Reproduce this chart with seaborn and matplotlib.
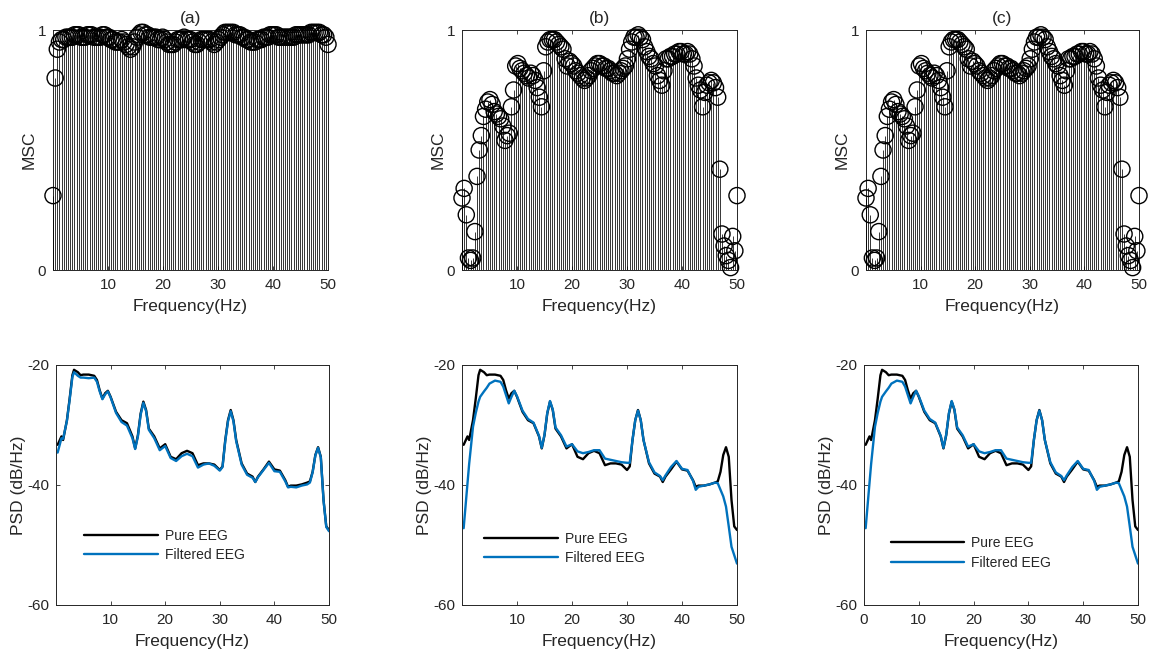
import numpy as np
import pandas as pd
import matplotlib
matplotlib.use("Agg")
import matplotlib.pyplot as plt
import seaborn as sns

# ---------------- data ----------------
# MSC frequency bins (fs = 100 Hz, 256-point FFT -> 129 bins from 0 to 50 Hz)
msc_freq = np.arange(129) * 50.0 / 128.0

msc_a = [0.31, 0.80, 0.92, 0.95, 0.96, 0.96, 0.97, 0.97, 0.97, 0.97,
         0.98, 0.98, 0.98, 0.97, 0.97, 0.97, 0.98, 0.98, 0.98, 0.97,
         0.97, 0.97, 0.97, 0.98, 0.98, 0.97, 0.97, 0.96, 0.96, 0.95,
         0.95, 0.95, 0.96, 0.95, 0.94, 0.93, 0.92, 0.93, 0.95, 0.97,
         0.98, 0.99, 0.99, 0.98, 0.98, 0.97, 0.97, 0.97, 0.97, 0.96,
         0.96, 0.97, 0.96, 0.95, 0.94, 0.94, 0.94, 0.95, 0.96, 0.96,
         0.96, 0.97, 0.96, 0.96, 0.96, 0.95, 0.94, 0.94, 0.95, 0.96,
         0.96, 0.96, 0.96, 0.96, 0.95, 0.94, 0.95, 0.96, 0.97, 0.98,
         0.99, 0.99, 0.99, 0.99, 0.99, 0.98, 0.98, 0.98, 0.97, 0.97,
         0.96, 0.96, 0.95, 0.95, 0.95, 0.96, 0.96, 0.96, 0.97, 0.97,
         0.97, 0.98, 0.98, 0.98, 0.98, 0.97, 0.97, 0.97, 0.97, 0.97,
         0.97, 0.97, 0.97, 0.98, 0.98, 0.98, 0.98, 0.98, 0.98, 0.98,
         0.99, 0.99, 0.99, 0.99, 0.99, 0.98, 0.98, 0.97, 0.94]

msc_b = [0.30, 0.34, 0.23, 0.05, 0.04, 0.05, 0.16, 0.39, 0.50, 0.56,
         0.64, 0.67, 0.70, 0.71, 0.69, 0.66, 0.65, 0.64, 0.63, 0.60,
         0.54, 0.56, 0.57, 0.68, 0.75, 0.85, 0.86, 0.84, 0.83, 0.82,
         0.81, 0.80, 0.82, 0.81, 0.79, 0.76, 0.72, 0.68, 0.83, 0.93,
         0.95, 0.96, 0.96, 0.96, 0.95, 0.94, 0.93, 0.92, 0.88, 0.85,
         0.87, 0.86, 0.85, 0.83, 0.82, 0.81, 0.80, 0.79, 0.80, 0.81,
         0.83, 0.84, 0.85, 0.86, 0.86, 0.85, 0.85, 0.84, 0.84, 0.83,
         0.82, 0.82, 0.81, 0.82, 0.83, 0.84, 0.85, 0.88, 0.92, 0.95,
         0.97, 0.97, 0.98, 0.97, 0.96, 0.93, 0.91, 0.89, 0.88, 0.86,
         0.85, 0.81, 0.79, 0.77, 0.83, 0.88, 0.88, 0.89, 0.89, 0.90,
         0.90, 0.91, 0.91, 0.90, 0.90, 0.91, 0.90, 0.88, 0.85, 0.80,
         0.77, 0.75, 0.68, 0.74, 0.77, 0.78, 0.79, 0.78, 0.76, 0.72,
         0.42, 0.15, 0.10, 0.06, 0.04, 0.01, 0.14, 0.08, 0.31]

msc_c = list(msc_b)

psd_freq = [0.3, 1, 1.3, 2, 2.5, 3, 3.3, 4, 4.5, 5, 6, 7, 7.5, 8, 8.5, 9, 9.5,
            10, 11, 12, 13, 14, 14.5, 15, 15.5, 16, 16.5, 17, 18, 19, 20, 21,
            22, 23, 24, 25, 26, 27, 28, 29, 30, 30.5, 31, 31.5, 32, 32.5, 33,
            34, 35, 36, 36.5, 37, 38, 39, 40, 41, 42, 42.5, 43, 44, 45, 46,
            46.5, 47, 47.5, 48, 48.5, 49, 49.5, 50]

psd_pure = [-33.3, -31.9, -32.5, -29.2, -25.6, -21.7, -20.8, -21.2, -21.7, -21.6,
            -21.6, -21.8, -22.5, -24.2, -25.6, -24.7, -24.3, -25.3, -27.8, -29.2,
            -29.7, -31.9, -33.9, -31.7, -28.1, -26.1, -27.5, -30.6, -31.9, -33.9,
            -33.2, -35.3, -35.7, -34.7, -34.3, -34.7, -36.7, -36.4, -36.4, -36.6,
            -37.5, -36.9, -32.5, -29.2, -27.5, -29.2, -32.5, -36.4, -38.1, -38.6,
            -39.5, -38.6, -37.4, -36.1, -37.4, -37.6, -39.2, -40.3, -40.1, -40.1,
            -39.9, -39.6, -39.4, -37.8, -35.0, -33.7, -35.3, -42.5, -46.9, -47.5]

psd_filt_a = [-34.6, -32.2, -32.3, -29.3, -25.8, -22.0, -21.2, -21.8, -22.1, -22.1,
              -22.2, -22.1, -22.8, -24.4, -25.7, -24.9, -24.4, -25.4, -28.0, -29.5,
              -30.1, -32.2, -34.0, -31.9, -28.3, -26.3, -27.7, -30.8, -32.2, -34.2,
              -33.5, -35.5, -36.0, -35.2, -34.8, -35.2, -37.1, -36.6, -36.4, -36.8,
              -37.6, -37.0, -32.7, -29.4, -27.7, -29.4, -32.7, -36.6, -38.3, -38.8,
              -39.5, -38.7, -37.5, -36.3, -37.7, -37.8, -39.4, -40.4, -40.3, -40.4,
              -40.1, -39.9, -39.6, -37.9, -35.1, -33.8, -35.4, -42.6, -47.0, -47.7]

psd_filt_bc = [-47.2, -39.7, -36.5, -30.3, -28.0, -26.1, -25.3, -24.4, -23.8, -23.1,
               -22.6, -22.8, -23.6, -25.0, -26.4, -25.3, -24.3, -25.2, -27.6, -29.0,
               -29.6, -31.8, -33.8, -31.6, -28.0, -26.0, -27.4, -30.4, -31.7, -33.6,
               -33.2, -34.4, -34.7, -34.5, -34.2, -34.2, -35.6, -35.8, -36.0, -36.2,
               -36.3, -36.3, -32.5, -29.2, -27.6, -29.2, -32.5, -36.2, -37.9, -38.5,
               -39.2, -38.4, -37.0, -36.0, -37.3, -37.5, -39.3, -40.8, -40.3, -40.1,
               -39.9, -39.6, -39.7, -40.8, -41.9, -43.6, -46.9, -50.3, -51.7, -53.1]

titles = ["(a)", "(b)", "(c)"]
series_names = ["Pure EEG", "Filtered EEG"]

# ---------------- style ----------------
sns.set_theme(style="ticks")
ink = "#262626"
plt.rcParams.update({
    "font.family": ["Liberation Sans", "DejaVu Sans"],
    "axes.unicode_minus": False,
    "xtick.direction": "in",
    "ytick.direction": "in",
    "xtick.top": True,
    "ytick.right": True,
    "xtick.major.size": 3,
    "ytick.major.size": 3,
    "xtick.major.width": 0.6,
    "ytick.major.width": 0.6,
    "xtick.major.pad": 6,
    "ytick.major.pad": 5,
    "axes.edgecolor": ink,
    "axes.linewidth": 0.7,
    "xtick.color": ink,
    "ytick.color": ink,
    "axes.labelcolor": ink,
    "text.color": ink,
    "xtick.labelsize": 11,
    "ytick.labelsize": 11,
    "axes.labelsize": 12.5,
    "axes.titlesize": 12.5,
})

W, H = 1158, 660
fig = plt.figure(figsize=(W / 100, H / 100), dpi=100)


def add_ax(x0, y0, x1, y1):
    return fig.add_axes([x0 / W, 1 - y1 / H, (x1 - x0) / W, (y1 - y0) / H])


top_boxes = [(53, 30, 328, 270), (462, 30, 737, 270), (866, 30, 1139, 270)]
bot_boxes = [(56, 365, 329, 605), (462, 365, 737, 605), (864, 365, 1138, 605)]
msc_sets = [msc_a, msc_b, msc_c]
filt_sets = [psd_filt_a, psd_filt_bc, psd_filt_bc]
legend_anchor = [(0.103, 0.318), (0.081, 0.306), (0.097, 0.286)]

for i in range(3):
    ax = add_ax(*top_boxes[i])
    vals = msc_sets[i]
    ax.vlines(msc_freq, 0, vals, color="black", lw=0.55, zorder=2)
    sns.scatterplot(x=msc_freq, y=vals, ax=ax, marker="o", s=135,
                    linewidth=1.0, clip_on=False, zorder=3, legend=False)
    coll = ax.collections[-1]
    coll.set_facecolor("none")
    coll.set_edgecolor("black")
    ax.set_xlim(0, 50)
    ax.set_ylim(0, 1)
    ax.set_xticks([10, 20, 30, 40, 50])
    ax.set_yticks([0, 1])
    ax.set_xlabel("Frequency(Hz)", labelpad=5)
    ax.set_ylabel("MSC", labelpad=1)
    ax.set_title(titles[i], pad=5)
    for s in ax.spines.values():
        s.set_visible(True)
        s.set_zorder(1)

    bx = add_ax(*bot_boxes[i])
    df = pd.DataFrame({"f": psd_freq, "pure": psd_pure, "filt": filt_sets[i]})
    sns.lineplot(data=df, x="f", y="pure", ax=bx, color="black", lw=1.7,
                 label=series_names[0])
    sns.lineplot(data=df, x="f", y="filt", ax=bx, color="#0072BD", lw=1.7,
                 label=series_names[1])
    bx.set_xlim(0, 50)
    bx.set_ylim(-60, -20)
    bx.set_yticks([-60, -40, -20])
    if i == 2:
        bx.set_xticks([0, 10, 20, 30, 40, 50])
    else:
        bx.set_xticks([10, 20, 30, 40, 50])
    bx.set_xlabel("Frequency(Hz)", labelpad=5)
    bx.set_ylabel("PSD (dB/Hz)", labelpad=1)
    for s in bx.spines.values():
        s.set_visible(True)
    bx.legend(loc="upper left", bbox_to_anchor=legend_anchor[i], frameon=False,
              fontsize=10, handlelength=5.3, handletextpad=0.5,
              labelspacing=0.4, borderpad=0, borderaxespad=0)

fig.savefig("out.png", dpi=100)
